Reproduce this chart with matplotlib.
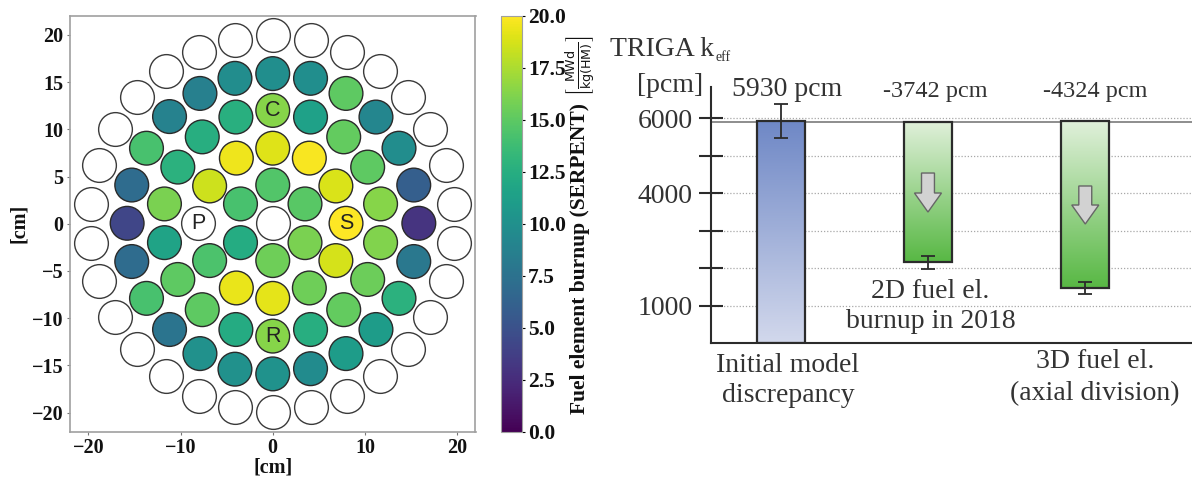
import numpy as np
import matplotlib
matplotlib.use('Agg')
import matplotlib.pyplot as plt
from matplotlib.colors import LinearSegmentedColormap
from matplotlib.patches import FancyArrow

plt.rcParams['font.family'] = 'Liberation Serif'

# core map: fuel element centres [cm] and burnup [MWd/kg(HM)]
fuel_x = [0, -3.5, -3.5, 0, 3.5, 3.5,
          0, -3.95, -6.85, -6.85, -3.95, 0, 3.97, 6.85, 7.95, 6.85, 3.97,
          0, -4.0, -7.65, -10.3, -11.75, -11.75, -10.3, -7.65, -4.0, 0, 4.1, 7.7, 10.3, 11.7, 11.7, 10.3, 7.7, 4.1,
          0, -4.1, -7.9, -11.2, -13.7, -15.3, -15.8, -15.3, -13.7, -11.2, -7.9, -4.1, 0, 4.1, 7.95, 11.2, 13.7, 15.3,
          15.85, 15.3, 13.7, 11.2, 7.95, 4.1]
fuel_y = [4.1, 2.1, -2.0, -3.9, -2.0, 2.1,
          8.0, 6.95, 4.0, -3.9, -6.8, -7.9, -6.8, -3.9, 0.05, 4.0, 6.95,
          12.0, 11.3, 9.2, 6.0, 2.1, -2.0, -5.9, -9.1, -11.2, -11.9, -11.2, -9.1, -5.9, -2.0, 2.1, 6.0, 9.2, 11.3,
          15.9, 15.4, 13.8, 11.35, 8.0, 4.1, 0.05, -4.0, -7.9, -11.2, -13.75, -15.4, -15.9, -15.35, -13.75, -11.2, -7.9, -4.0,
          0.05, 4.1, 8.0, 11.3, 13.8, 15.4]
burnup = [14.6, 14.2, 12.3, 15.6, 16.0, 14.8,
          19.0, 19.5, 18.5, 14.3, 19.3, 19.2, 15.6, 18.7, 20.0, 18.9, 19.8,
          16.4, 12.6, 12.5, 12.8, 16.0, 11.6, 15.0, 15.0, 12.2, 16.4, 12.5, 15.2, 15.5, 16.2, 16.4, 15.0, 15.2, 11.4,
          9.8, 9.7, 8.6, 8.8, 14.2, 7.0, 4.2, 7.0, 14.2, 7.7, 10.0, 10.0, 10.2, 9.6, 11.0, 11.0, 12.8, 8.0,
          3.0, 6.0, 9.7, 9.2, 15.0, 9.8]

# empty positions, outer ring plus P and the centre
empty_x = [0, -4.1, -8.0, -11.6, -14.75, -17.1, -18.9, -19.7, -19.7, -18.9, -17.1, -14.75, -11.6, -8.0, -4.1, 0,
           4.1, 8.05, 11.65, 14.7, 17.1, 18.8, 19.7, 19.7, 18.8, 17.1, 14.7, 11.65, 8.05, 4.1, 0, -8.1]
empty_y = [20.0, 19.5, 18.2, 16.2, 13.4, 10.0, 6.2, 2.1, -2.0, -6.1, -9.9, -13.3, -16.1, -18.2, -19.4, -19.9,
           -19.4, -18.2, -16.1, -13.3, -9.9, -6.1, -2.0, 2.1, 6.2, 10.0, 13.4, 16.2, 18.2, 19.5, 0.05, 0.05]

rod_names = ['C', 'P', 'S', 'R']
rod_x = [0, -8.1, 7.95, 0]
rod_y = [12.0, 0.05, 0.05, -11.9]

# discrepancy bars
bar_top = [5920, 5900, 5920]
bar_bottom = [0, 2150, 1470]
err_high = [6370, 2330, 1635]
err_low = [5470, 1970, 1305]
bar_pos = [0, 1, 2.07]
arrow_top = [4533, 4187]
arrow_tip = [3493, 3173]
yticks = [1000, 2000, 3000, 4000, 5000, 6000]
yticklabels = ['1000', '', '', '4000', '', '6000']

W, H = 1192, 480
dark = '#2b2b2b'
serif_color = '#333333'


def axes_px(left, top, right, bottom):
    return [left / W, 1 - bottom / H, (right - left) / W, (bottom - top) / H]


def put_text(x, y, s, size=20, ha='center'):
    fig.text(x / W, 1 - y / H, s, fontsize=size, color=serif_color, ha=ha, va='baseline')


fig = plt.figure(figsize=(W / 100, H / 100), dpi=100)

# left panel
ax = fig.add_axes(axes_px(70, 16, 475.5, 431.5))
sc = ax.scatter(fuel_x, fuel_y, c=burnup, cmap='viridis', vmin=0, vmax=20, s=590,
                edgecolors='#2a2a2a', linewidths=1.0, zorder=3)
ax.scatter(empty_x, empty_y, facecolors='white', edgecolors='#3a3a3a', s=590, linewidths=1.0, zorder=2)
for name, x, y in zip(rod_names, rod_x, rod_y):
    ax.text(x, y, name, family='Liberation Sans', fontsize=15.5, color='#222222',
            ha='center', va='center', zorder=4)
ax.set_xlim(-22, 22)
ax.set_ylim(-22, 22)
ax.set_xticks([-20, -10, 0, 10, 20])
ax.set_yticks([-20, -15, -10, -5, 0, 5, 10, 15, 20])
ax.tick_params(labelsize=14.5, length=2.5, width=0.8, color='#777777', labelcolor='#111111', pad=2)
for label in ax.get_xticklabels() + ax.get_yticklabels():
    label.set_fontweight('bold')
for spine in ax.spines.values():
    spine.set_color('#a0a0a0')
    spine.set_linewidth(1.2)
ax.set_xlabel('[cm]', fontsize=14.5, fontweight='bold', labelpad=0, color='#111111')
ax.set_ylabel('[cm]', fontsize=14.5, fontweight='bold', labelpad=2, color='#111111')

# colorbar
cax = fig.add_axes(axes_px(500.5, 16, 521.5, 431.5))
cbar = fig.colorbar(sc, cax=cax)
cbar.set_ticks([0, 2.5, 5, 7.5, 10, 12.5, 15, 17.5, 20])
cbar.ax.tick_params(labelsize=15.5, length=2.5, width=0.8, pad=2, labelcolor='#111111')
for label in cbar.ax.get_yticklabels():
    label.set_fontweight('bold')
cbar.outline.set_edgecolor('#a0a0a0')
fig.text(580 / W, 1 - 258 / H, 'Fuel element burnup (SERPENT)', fontsize=15.5, fontweight='bold', color='#111111',
         rotation=90, ha='center', va='center')
fig.text(581 / W, 1 - 66 / H, r'$\left[\frac{\mathrm{MWd}}{\mathrm{kg(HM)}}\right]$', fontsize=13, color='#111111',
         rotation=90, ha='center', va='center')

# right panel
ax2 = fig.add_axes(axes_px(711, 87, 1192, 343))
ax2.grid(axis='y', linestyle=(0, (1, 1.5)), color='#a8a8a8', linewidth=0.9, zorder=0)
ax2.set_axisbelow(True)
ax2.axhline(5900, color='#7a7a7a', linewidth=1.2, zorder=1)

blue = LinearSegmentedColormap.from_list('blue_bar', ['#d2d8ec', '#6f88c6'])
green = LinearSegmentedColormap.from_list('green_bar', ['#58b844', '#e0f0da'])
bar_cmaps = [blue, green, green]
gradient = np.linspace(1, 0, 128).reshape(-1, 1)
width = 0.327
for x, top, bottom, cm in zip(bar_pos, bar_top, bar_bottom, bar_cmaps):
    ax2.imshow(gradient, cmap=cm, vmin=0, vmax=1, aspect='auto', zorder=2,
               extent=[x - width / 2, x + width / 2, bottom, top])
    ax2.bar(x, top - bottom, width, bottom=bottom, facecolor='none', edgecolor=dark, linewidth=1.6, zorder=3)
err_mid = (np.array(err_high) + np.array(err_low)) / 2
err_half = (np.array(err_high) - np.array(err_low)) / 2
ax2.errorbar(bar_pos, err_mid, yerr=err_half, fmt='none', ecolor=dark, elinewidth=1.3,
             capsize=4.7, capthick=1.3, zorder=5)
for x, y0, y1 in zip(bar_pos[1:], arrow_top, arrow_tip):
    ax2.add_patch(FancyArrow(x, y0, 0, y1 - y0, width=0.088, head_width=0.184, head_length=507,
                             length_includes_head=True, facecolor='#d2d2d2', edgecolor='#666666',
                             linewidth=1.0, zorder=4))
ax2.set_xlim(-0.476, 2.796)
ax2.set_ylim(0, 6827)
ax2.set_xticks([])
ax2.set_yticks(yticks)
ax2.set_yticklabels(yticklabels)
ax2.tick_params(axis='y', direction='inout', length=17.3, width=1.5, color=dark, labelsize=20,
                labelcolor=serif_color, pad=4.5)
ax2.spines['top'].set_visible(False)
ax2.spines['right'].set_visible(False)
ax2.spines['left'].set_linewidth(1.5)
ax2.spines['bottom'].set_linewidth(1.5)
ax2.spines['left'].set_color(dark)
ax2.spines['bottom'].set_color(dark)

# annotations of the right panel
put_text(610, 56, 'TRIGA k', ha='left')
put_text(716, 61, 'eff', size=10, ha='left')
put_text(670, 92, '[pcm]')
put_text(787, 96, '5930 pcm')
put_text(935, 97, '-3742 pcm', size=17.5)
put_text(1095, 97, '-4324 pcm', size=17.5)
put_text(930, 298, '2D fuel el.')
put_text(931, 328, 'burnup in 2018')
put_text(788, 372, 'Initial model')
put_text(788, 402, 'discrepancy')
put_text(1095, 368, '3D fuel el.')
put_text(1095, 400, '(axial division)')

plt.savefig('out.png', dpi=100)
